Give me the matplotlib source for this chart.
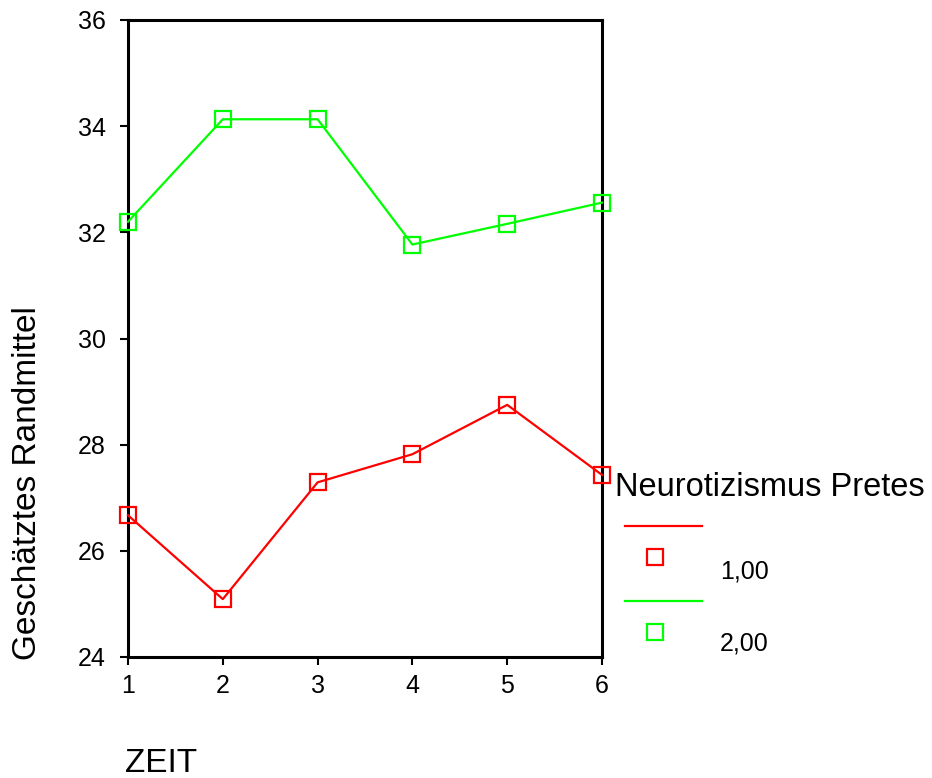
import matplotlib.pyplot as plt
from matplotlib.lines import Line2D

plt.rcParams['font.family'] = ['Liberation Sans', 'DejaVu Sans']

########################### Data ####################################

zeit = [1, 2, 3, 4, 5, 6]
neuro_1 = [26.67, 25.09, 27.29, 27.82, 28.75, 27.43]
neuro_2 = [32.20, 34.13, 34.13, 31.77, 32.16, 32.56]
groups = ['1,00', '2,00']
colors = ['#ff0000', '#00ff00']
yticks = [24, 26, 28, 30, 32, 34, 36]

W, H = 932, 778

########################### Plot ####################################

fig = plt.figure(figsize=(W / 100, H / 100), dpi=100)
ax = fig.add_axes([128 / W, 1 - 657 / H, (602 - 128) / W, (657 - 20) / H])

for vals, col in zip([neuro_1, neuro_2], colors):
    ax.plot(zeit, vals, color=col, lw=1.6, marker='s', ms=12, mfc='none',
            mec=col, mew=1.6, clip_on=False, zorder=5)

ax.set_xlim(1, 6)
ax.set_ylim(24, 36)
ax.set_xticks(zeit)
ax.set_yticks(yticks)
ax.tick_params(direction='out', length=6, width=1.5, labelsize=18)
ax.tick_params(axis='y', pad=10)
ax.tick_params(axis='x', pad=6)
ax.tick_params(top=False, right=False)
for s in ax.spines.values():
    s.set_linewidth(2.2)

fig.text(28 / W, 1 - 660 / H, 'Geschätztes Randmittel', rotation=90,
         ha='center', va='bottom', fontsize=24)
fig.text(125 / W, 1 - 763 / H, 'ZEIT', ha='left', va='center', fontsize=24)

# legend drawn the SPSS way: line above marker, label beside
fig.text(615 / W, 1 - 487 / H, 'Neurotizismus Pretes', ha='left',
         va='center', fontsize=23.5)
line_y = [526, 601]
mark_y = [557, 632]
lab_y = [572, 643]
for col, lab, ly, my, ty in zip(colors, groups, line_y, mark_y, lab_y):
    fig.add_artist(Line2D([625 / W, 702 / W], [1 - ly / H, 1 - ly / H],
                          color=col, lw=1.6, transform=fig.transFigure))
    fig.add_artist(Line2D([655 / W], [1 - my / H], color=col, marker='s',
                          ms=12, mfc='none', mec=col, mew=1.6, ls='none',
                          transform=fig.transFigure))
    fig.text(720 / W, 1 - ty / H, lab, ha='left', va='center', fontsize=18)

plt.savefig('out.png', dpi=100)
